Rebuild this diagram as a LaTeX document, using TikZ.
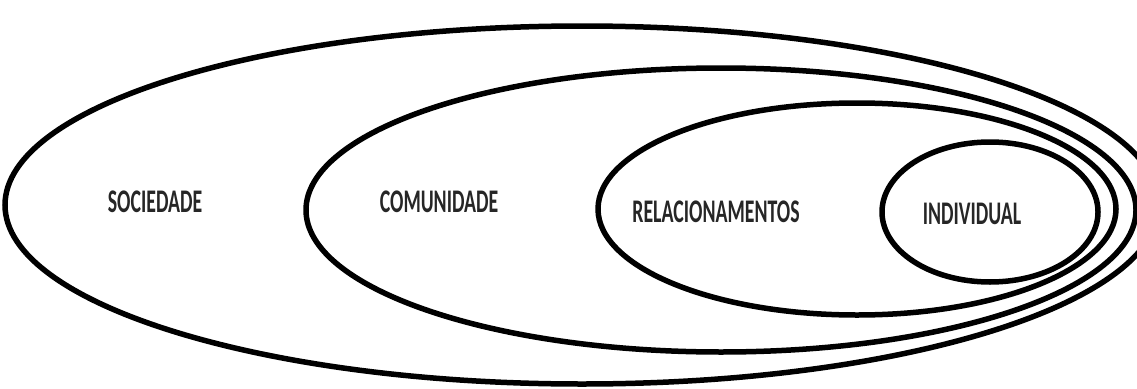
\documentclass[tikz,border=0pt]{standalone}
\usepackage{fontspec}
\setmainfont{Carlito}
\newfontfamily\levelfont[FakeStretch=0.6]{Carlito Bold}
\usepackage{tikz}

\begin{document}
\begin{tikzpicture}[x=1pt, y=-1pt, ring/.style={line width=5.5pt}, level/.style={font=\levelfont\fontsize{33}{35}\selectfont, text=black!85}]
                \useasboundingbox (0,0) rectangle (1137,388);
                \clip (0,0) rectangle (1137,388);
                \draw[ring] (582,205) ellipse (577 and 179);
                \draw[ring] (721,210) ellipse (415 and 142);
                \draw[ring] (857,209) ellipse (259 and 106);
                \draw[ring] (990,212) ellipse (108 and 70);
                \node[level] (sociedade) at (155,202) {SOCIEDADE};
                \node[level] (comunidade) at (439,202) {COMUNIDADE};
                \node[level] (relacionamentos) at (716,212) {RELACIONAMENTOS};
                \node[level] (individual) at (972,214) {INDIVIDUAL};
            \end{tikzpicture}
\end{document}
